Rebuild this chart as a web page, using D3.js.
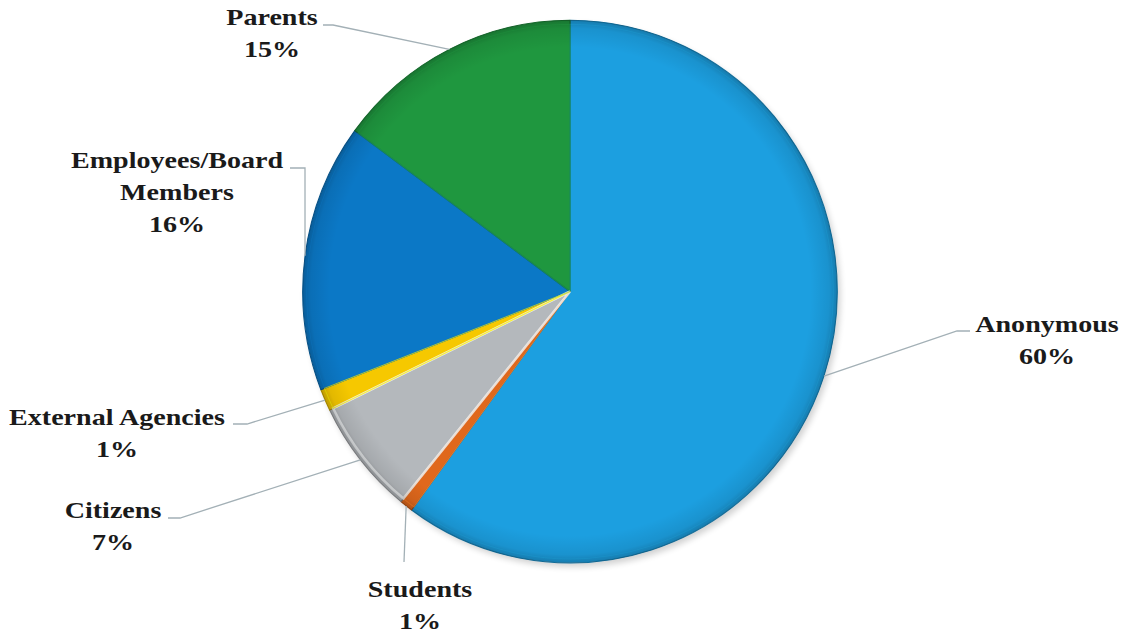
<!DOCTYPE html>
<html><head><meta charset="utf-8">
<script src="https://cdn.jsdelivr.net/npm/d3@7"></script>
<style>html,body{margin:0;padding:0;background:#fff;}svg{display:block;}</style>
</head><body>
<svg id="chart" width="1121" height="639"></svg>
<script>
const categories = ["Anonymous","Students","Citizens","External Agencies","Employees/Board Members","Parents"];
const values = [60.1, 0.8, 6.9, 1.3, 16.0, 14.9];
const pctLabels = ["60%","1%","7%","1%","16%","15%"];
const labelLines = [["Anonymous"],["Students"],["Citizens"],["External Agencies"],["Employees/Board","Members"],["Parents"]];
const colors = ["#1c9fe0","#e0681c","#b4b8bc","#f6c800","#0b78c6","#1f973f"];

const svg = d3.select("#chart");
const cx = 570, cy = 291.5, R = 270;
const defs = svg.append("defs");

// rim shading
const rg = defs.append("radialGradient").attr("id","rim").attr("cx","50%").attr("cy","50%").attr("r","50%");
rg.append("stop").attr("offset","0%").attr("stop-color","#000").attr("stop-opacity",0);
rg.append("stop").attr("offset","90%").attr("stop-color","#000").attr("stop-opacity",0);
rg.append("stop").attr("offset","97%").attr("stop-color","#000").attr("stop-opacity",0.08);
rg.append("stop").attr("offset","100%").attr("stop-color","#000").attr("stop-opacity",0.22);
const blur = defs.append("filter").attr("id","shadow").attr("x","-10%").attr("y","-10%").attr("width","120%").attr("height","120%");
blur.append("feGaussianBlur").attr("stdDeviation",3);

const pie = d3.pie().sort(null).value(d=>d)(values);
const arc = d3.arc().innerRadius(0).outerRadius(R);

const g = svg.append("g").attr("transform",`translate(${cx},${cy}) scale(0.99,1.005)`);
// soft shadow
g.append("circle").attr("cx",3).attr("cy",4).attr("r",R).attr("fill","#000").attr("opacity",0.18).attr("filter","url(#shadow)");

g.selectAll("path.slice").data(pie).join("path")
  .attr("class","slice")
  .attr("d",arc)
  .attr("fill",(d,i)=>colors[i])
  .attr("stroke",(d,i)=>d3.color(colors[i]).darker(0.9))
  .attr("stroke-width",1)
  .attr("stroke-linejoin","round");

// bevel highlight on small slices
g.selectAll("path.hl").data(pie).join("path")
  .attr("class","hl")
  .attr("d",d3.arc().innerRadius(0).outerRadius(R-4))
  .attr("fill","none")
  .attr("stroke",(d,i)=> i===2 ? "#f4f6f8" : d3.color(colors[i]).brighter(0.6))
  .attr("stroke-width",(d,i)=> i===2 ? 2.5 : 1)
  .attr("opacity",(d,i)=> (i===2||i===1||i===3) ? 0.8 : 0.25);

g.append("circle").attr("r",R).attr("fill","url(#rim)");

// leader lines + labels
const layout = [
  {elbow:[957,331], end:[970,331], tx:1047, ty:332},
  {elbow:[404,562], end:[404,562], tx:420, ty:597},
  {elbow:[180,518], end:[168,518], tx:113, ty:518},
  {elbow:[247,424], end:[233,424], tx:117, ty:425},
  {elbow:[305,168], end:[290,168], tx:177, ty:168},
  {elbow:[333,25], end:[323,25], tx:272, ty:25}
];
const lineH = 32;
pie.forEach((d,i)=>{
  const a = (d.startAngle+d.endAngle)/2;
  const ax = cx + 0.99*R*Math.sin(a), ay = cy - 1.005*R*Math.cos(a);
  const L = layout[i];
  svg.append("polyline")
    .attr("points",[[ax,ay],L.elbow,L.end].map(p=>p.join(",")).join(" "))
    .attr("fill","none").attr("stroke","#a3b0b6").attr("stroke-width",1.3);
  const lines = labelLines[i].concat([pctLabels[i]]);
  lines.forEach((t,k)=>{
    svg.append("text")
      .attr("transform",`translate(${L.tx},${L.ty + k*lineH}) scale(1.17,1)`)
      .attr("text-anchor","middle")
      .attr("font-family","'Liberation Serif','Times New Roman',serif")
      .attr("font-weight","bold")
      .attr("font-size",24)
      .attr("fill","#1a1a1a")
      .text(t);
  });
});
</script>
</body></html>
